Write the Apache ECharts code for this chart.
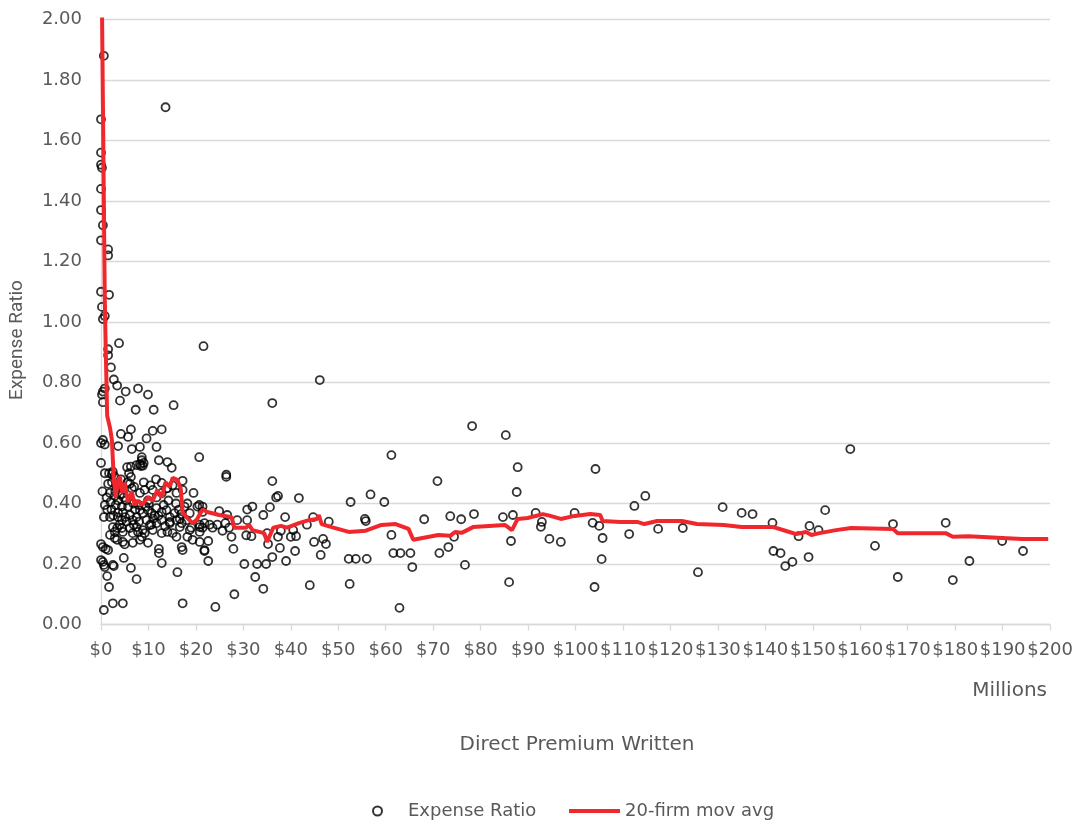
<!DOCTYPE html>
<html>
<head>
<meta charset="utf-8">
<script src="https://cdn.jsdelivr.net/npm/echarts@6/dist/echarts.min.js"></script>
<style>
  html, body { margin: 0; padding: 0; background: #ffffff; }
  #chart { width: 1076px; height: 822px; }
</style>
</head>
<body>
<div id="chart"></div>
<script>
// ---- Data (Direct Premium Written in $ millions, Expense Ratio) ----
const tallPoints = [
  [0.6,1.88],[13.6,1.71],[0.0,1.67],[0.0,1.56],[0.0,1.52],[0.2,1.51],[0.0,1.44],[0.0,1.37],
  [0.4,1.32],[0.0,1.27],[1.5,1.24],[1.5,1.22],[0.0,1.10],[1.7,1.09],[0.2,1.05],[0.8,1.02],[0.4,1.01]
];
const highPoints = [
  [3.8,0.93],[21.6,0.92],[1.5,0.91],[1.5,0.89],[2.1,0.85],[2.7,0.81],[3.4,0.79],[0.8,0.78],
  [0.4,0.77],[0.2,0.76],[0.4,0.735],[5.2,0.77],[7.8,0.78],[9.9,0.76],[4.0,0.74],[7.3,0.71],
  [11.1,0.71],[15.3,0.725],[36.1,0.732],[46.1,0.808],
  [6.3,0.645],[4.2,0.63],[5.7,0.62],[10.9,0.64],[12.8,0.645],[9.6,0.615],[0.0,0.60],[0.8,0.595],
  [0.4,0.61],[3.6,0.59],[6.5,0.58],[8.2,0.587],[11.7,0.587],
  [20.7,0.553],[8.6,0.553],[8.6,0.543],[12.2,0.543],[14.0,0.537],[14.9,0.518],[0.0,0.534],
  [5.5,0.52],[6.3,0.522],[8.2,0.53],[8.8,0.525],[0.8,0.50],[1.7,0.50],[2.5,0.505],[5.9,0.50],
  [6.3,0.488],[2.3,0.497],[7.5,0.527],[8.4,0.524],[9.0,0.534]
];
const clusterPoints = [
  [1.5,0.465],[6.1,0.465],[12.8,0.468],[17.2,0.475],[6.5,0.45],[14.0,0.45],[15.1,0.46],[2.9,0.425],
  [3.6,0.41],[0.8,0.395],[1.9,0.435],[3.1,0.395],[4.4,0.39],[5.7,0.39],[8.2,0.435],[9.2,0.445],
  [9.9,0.41],[10.9,0.445],[12.8,0.435],[13.8,0.45],[15.9,0.435],[17.2,0.445],[11.7,0.42],[18.2,0.40],
  [19.5,0.435],[20.3,0.39],
  [3.0,0.44],[3.3,0.45],[4.0,0.43],[4.8,0.42],[5.3,0.41],[6.8,0.40],[7.2,0.38],[7.9,0.395],
  [9.4,0.39],[10.1,0.40],[11.3,0.36],[13.2,0.395],[14.2,0.41],[15.8,0.40],[16.4,0.38],[17.6,0.39],
  [2.2,0.38],[2.6,0.36],[5.1,0.355],[6.9,0.33],[9.6,0.345],[10.6,0.33],[12.1,0.36],[13.5,0.325],
  [16.9,0.365],[19.0,0.32],[3.9,0.33],[8.0,0.34],[11.0,0.35],[2.0,0.405],[1.3,0.38],[4.2,0.48],
  [3.2,0.46],[5.6,0.47],[7.0,0.455],[9.0,0.47],[10.4,0.46],[11.6,0.48],[2.8,0.49],[2.3,0.47],
  [1.2,0.42],[0.3,0.44],
  [0.6,0.355],[3.6,0.37],[4.6,0.37],[6.1,0.362],[3.6,0.355],[1.9,0.355],[4.4,0.345],[5.4,0.34],
  [6.7,0.345],[7.5,0.355],[8.2,0.378],[8.8,0.368],[9.9,0.378],[10.7,0.368],[11.7,0.385],[12.8,0.372],
  [13.8,0.378],[14.5,0.355],[15.5,0.368],[2.5,0.322],[3.4,0.319],[4.4,0.319],[6.1,0.319],[7.5,0.322],
  [8.8,0.312],[10.3,0.329],[11.7,0.335],[12.8,0.345],[14.5,0.335],[15.9,0.345],[16.6,0.349],[18.7,0.368],
  [21.4,0.372],[18.0,0.345],[17.0,0.335],[20.8,0.322],[21.8,0.335],[1.9,0.296],[2.9,0.286],[4.6,0.306],
  [2.9,0.306],[6.7,0.302],[7.8,0.306],[8.6,0.29],[9.2,0.302],[10.9,0.312],[12.8,0.302],[14.0,0.306],
  [15.1,0.302],[16.6,0.322],[18.7,0.312],[20.8,0.306],[14.5,0.339],[3.4,0.28],[4.6,0.273],[6.7,0.27],
  [8.2,0.28],[9.9,0.27],[12.2,0.25],[12.2,0.236],[12.8,0.203],[16.1,0.173],[17.2,0.246],[17.0,0.256],
  [18.2,0.29],[19.3,0.28],[21.8,0.246],[0.0,0.266],[0.4,0.256],[1.0,0.25],[1.5,0.246],[0.0,0.213],
  [0.4,0.207],[0.8,0.19],[1.3,0.16],[1.7,0.124],[0.6,0.197],[2.5,0.197],[4.8,0.22],[6.3,0.187],
  [7.5,0.15],[2.5,0.07],[4.6,0.07],[0.6,0.048],[17.2,0.07],[15.9,0.29],[2.7,0.193],[5.0,0.265]
];
const midPoints = [
  [26.4,0.495],[26.4,0.488],[36.1,0.474],[36.9,0.42],[37.3,0.425],[41.7,0.418],[52.6,0.405],[56.8,0.43],
  [59.7,0.405],[61.2,0.56],
  [20.7,0.395],[21.4,0.39],[24.9,0.375],[26.6,0.362],[28.7,0.345],[30.8,0.38],[31.9,0.39],[30.8,0.345],
  [35.6,0.388],[34.2,0.362],[38.8,0.355],[44.7,0.355],[48.0,0.34],[43.4,0.33],[40.5,0.312],[55.6,0.349],
  [55.8,0.342],[20.8,0.33],[21.4,0.32],[22.9,0.33],[23.5,0.32],[24.5,0.33],[25.6,0.31],[26.2,0.335],
  [27.0,0.32],[27.5,0.29],[30.6,0.295],[31.7,0.292],[35.0,0.302],[37.3,0.29],[37.9,0.31],[40.0,0.29],
  [41.1,0.292],[44.9,0.273],[46.8,0.283],[47.4,0.266],[61.2,0.296],[20.8,0.273],[22.6,0.276],[21.8,0.243],
  [22.6,0.21],[27.9,0.25],[35.2,0.266],[37.7,0.253],[40.9,0.243],[39.0,0.21],[36.1,0.223],[30.2,0.20],
  [32.9,0.20],[34.8,0.20],[46.3,0.23],[52.2,0.217],[53.7,0.217],[56.0,0.217],[32.5,0.157],
  [34.2,0.118],[28.1,0.10],[24.1,0.058],[44.0,0.13],[52.4,0.134]
];
const rightPoints = [
  [78.2,0.656],[85.3,0.626],[87.8,0.52],[104.2,0.514],[157.9,0.58],[70.9,0.474],[87.6,0.438],[114.7,0.425],
  [112.4,0.392],[68.1,0.348],[73.6,0.358],[75.9,0.348],[78.6,0.365],[84.7,0.355],[86.8,0.362],[91.6,0.369],
  [99.8,0.369],[92.9,0.339],[92.7,0.323],[103.6,0.336],[105.0,0.326],[74.4,0.29],[86.4,0.276],[94.5,0.283],
  [96.9,0.273],[105.7,0.286],[111.3,0.299],[61.6,0.236],[63.1,0.236],[65.2,0.236],[71.3,0.236],[73.2,0.256],
  [65.6,0.19],[76.7,0.197],[105.5,0.216],[86.0,0.14],[104.0,0.124],[62.9,0.055],
  [131.0,0.388],[135.0,0.369],[137.3,0.365],[152.6,0.378],[141.5,0.336],[149.3,0.326],[151.2,0.312],[147.0,0.292],
  [166.9,0.332],[178.0,0.336],[117.4,0.316],[122.6,0.319],[189.9,0.276],[194.3,0.243],[141.7,0.243],[143.2,0.236],
  [144.2,0.193],[145.7,0.207],[149.1,0.223],[163.1,0.26],[183.0,0.21],[125.8,0.173],[167.9,0.157],[179.5,0.147]
];

// 20-firm moving average
const movAvgX = [0.05,0.2,0.4,0.6,0.8,1.0,1.3,1.9,2.3,2.5,2.7,3.1,3.6,4.0,4.4,5.0,5.7,6.5,7.1,7.8,
  8.6,9.9,10.9,11.9,12.8,13.6,14.5,15.1,16.1,16.8,17.2,18.0,19.3,20.1,21.4,22.4,24.9,27.5,28.1,30.6,
  31.2,31.9,34.4,35.0,35.4,36.3,37.9,39.2,41.7,43.8,45.5,45.9,46.5,48.6,52.2,55.8,59.1,62.1,64.8,65.8,
  71.1,73.6,74.6,76.0,78.4,85.1,86.6,87.8,89.9,93.1,94.5,96.9,99.8,103.1,105.2,105.7,109.4,113.0,114.5,117.2,
  122.4,125.6,131.2,135.0,141.7,144.4,146.5,148.6,149.7,151.4,154.9,158.1,166.9,167.9,178.0,179.5,182.8,189.9,194.1,199.6];
const movAvgY = [2.40,2.05,1.73,1.40,1.07,0.91,0.69,0.65,0.61,0.544,0.48,0.42,0.478,0.488,0.435,0.468,0.405,0.438,0.395,0.41,
  0.395,0.42,0.41,0.445,0.42,0.47,0.455,0.485,0.478,0.45,0.372,0.355,0.335,0.345,0.38,0.372,0.362,0.355,0.32,0.32,
  0.33,0.312,0.302,0.273,0.27,0.32,0.326,0.32,0.335,0.345,0.349,0.362,0.332,0.322,0.306,0.31,0.329,0.332,0.316,0.28,
  0.296,0.293,0.306,0.303,0.322,0.329,0.312,0.349,0.352,0.365,0.36,0.349,0.359,0.365,0.362,0.342,0.339,0.339,0.332,0.342,
  0.342,0.332,0.329,0.322,0.322,0.309,0.299,0.306,0.296,0.302,0.312,0.319,0.316,0.302,0.302,0.29,0.292,0.286,0.283,0.283];

const xTicks = { min: 0, max: 200, interval: 10 };
const yTicks = { min: 0, max: 2, interval: 0.2 };

const scatterData = [].concat(tallPoints, highPoints, clusterPoints, midPoints, rightPoints);
const lineData = movAvgX.map((x, i) => [x, movAvgY[i]]);

const FONT = '"DejaVu Sans"';
const GREY = '#595959';
const RED = '#f0282d';

const chart = echarts.init(document.getElementById('chart'), null, { renderer: 'canvas' });
chart.setOption({
  backgroundColor: '#ffffff',
  animation: false,
  textStyle: { fontFamily: FONT },
  grid: { left: 101, right: 21, top: 19.5, bottom: 197.5, containLabel: false },
  xAxis: {
    type: 'value', min: xTicks.min, max: xTicks.max, interval: xTicks.interval,
    axisLine: { show: true, lineStyle: { color: '#d9d9d9', width: 1.3 } },
    axisTick: { show: true, length: 6, lineStyle: { color: '#d9d9d9', width: 1.3 } },
    splitLine: { show: false },
    axisLabel: { formatter: v => '$' + v, fontSize: 18, color: GREY, margin: 17, fontFamily: FONT }
  },
  yAxis: {
    type: 'value', min: yTicks.min, max: yTicks.max, interval: yTicks.interval,
    axisLine: { show: true, lineStyle: { color: '#d9d9d9', width: 1.3 } },
    axisTick: { show: false },
    splitLine: { show: true, lineStyle: { color: '#d9d9d9', width: 1.3 } },
    axisLabel: { formatter: v => v.toFixed(2), fontSize: 18, color: GREY, margin: 19, fontFamily: FONT }
  },
  legend: [
    {
      data: [{ name: 'Expense Ratio', icon: 'circle' }], left: 367, top: 797, itemWidth: 9, itemHeight: 9, itemGap: 0,
      textStyle: { fontSize: 18, color: GREY, fontFamily: FONT, padding: [0, 0, 0, 21] }, selectedMode: false
    },
    {
      data: [{ name: '20-firm mov avg', icon: 'rect' }], left: 564, top: 797, itemWidth: 51, itemHeight: 4, itemGap: 0,
      textStyle: { fontSize: 18, color: GREY, fontFamily: FONT }, selectedMode: false
    }
  ],
  graphic: [
    { type: 'text', x: 17, y: 340, rotation: Math.PI / 2,
      style: { text: 'Expense Ratio', fill: GREY, font: '19px Roboto', align: 'center', verticalAlign: 'middle' } },
    { type: 'text', x: 577, y: 745,
      style: { text: 'Direct Premium Written', fill: GREY, font: '20px ' + FONT, align: 'center', verticalAlign: 'middle' } },
    { type: 'text', x: 1047, y: 691,
      style: { text: 'Millions', fill: GREY, font: '20px ' + FONT, align: 'right', verticalAlign: 'middle' } }
  ],
  series: [
    {
      name: 'Expense Ratio', type: 'scatter', data: scatterData,
      symbol: 'circle', symbolSize: 8,
      itemStyle: { color: 'rgba(255,255,255,0)', borderColor: '#000000', borderWidth: 1.8 }
    },
    {
      name: '20-firm mov avg', type: 'line', data: lineData,
      symbol: 'none', showSymbol: false, clip: true,
      lineStyle: { color: RED, width: 4 },
      itemStyle: { color: RED }
    }
  ]
});
</script>
</body>
</html>
